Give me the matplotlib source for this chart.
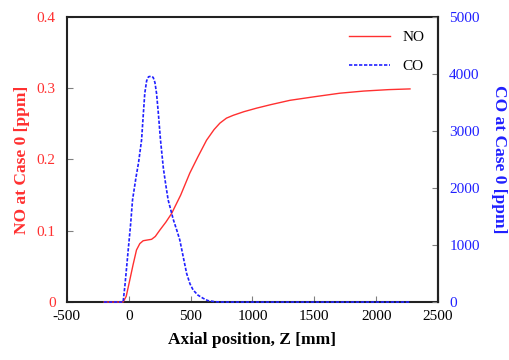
import matplotlib.pyplot as plt
import matplotlib

# axial position [mm] and concentrations
z_no = [-200, -45, -20, 9, 35, 63, 90, 117, 150, 185, 215, 252, 300, 346, 420, 494, 560, 629,
        690, 737, 790, 845, 930, 1033, 1150, 1303, 1500, 1707, 1900, 2100, 2273]
no = [0, 0, 0.008, 0.031, 0.052, 0.073, 0.082, 0.086, 0.087, 0.088, 0.092, 0.101, 0.112, 0.124,
      0.150, 0.181, 0.204, 0.227, 0.242, 0.251, 0.258, 0.262, 0.267, 0.272, 0.277, 0.283, 0.288,
      0.293, 0.296, 0.298, 0.299]

z_co = [-200, -45, -30, -15, -4, 15, 31, 60, 80, 104, 120, 130, 145, 160, 180, 198, 212, 225,
        240, 257, 280, 300, 319, 360, 390, 413, 440, 468, 495, 521, 560, 602, 640, 700, 760,
        1000, 1500, 2000, 2273]
co = [0, 0, 300, 650, 912, 1350, 1789, 2200, 2450, 2842, 3350, 3661, 3880, 3950, 3960, 3940,
      3850, 3661, 3300, 2842, 2350, 2050, 1789, 1450, 1250, 1088, 800, 503, 320, 210, 120, 65,
      25, 5, 0, 0, 0, 0, 0]

x_ticks = [-500, 0, 500, 1000, 1500, 2000, 2500]
no_ticks = [0, 0.1, 0.2, 0.3, 0.4]
co_ticks = [0, 1000, 2000, 3000, 4000, 5000]

RED = "#ff3030"
BLUE = "#2020ff"


def main():
    matplotlib.rc("font", family="Liberation Serif", size=11)

    fig, ax = plt.subplots(figsize=(5.1, 3.6), dpi=100)
    fig.subplots_adjust(left=0.131, right=0.859, top=0.953, bottom=0.161)
    ax2 = ax.twinx()

    l1, = ax.plot(z_no, no, color=RED, lw=1.0, label="NO", zorder=3, clip_on=False)
    l2, = ax2.plot(z_co, co, color=BLUE, lw=1.2, ls=(0, (2, 1)), label="CO", zorder=3,
                   clip_on=False)

    ax.set_xlim(-500, 2500)
    ax.set_ylim(0, 0.4)
    ax2.set_ylim(0, 5000)
    ax.set_xticks(x_ticks)
    ax.set_xticklabels([str(t) for t in x_ticks])
    ax.set_yticks(no_ticks)
    ax.set_yticklabels(["0", "0.1", "0.2", "0.3", "0.4"])
    ax2.set_yticks(co_ticks)

    ax.tick_params(axis="x", direction="in", length=4, color="gray", pad=6)
    ax.tick_params(axis="y", direction="in", length=4, color="gray", labelcolor=RED, pad=8)
    ax2.tick_params(axis="y", direction="in", length=4, color="gray", labelcolor=BLUE, pad=8)

    for s in ax.spines.values():
        s.set_linewidth(1.5)
        s.set_color("#222222")
    for name, s in ax2.spines.items():
        s.set_visible(name == "right")
        s.set_linewidth(1.5)
        s.set_color("#222222")

    ax.set_xlabel("Axial position, Z [mm]", fontweight="bold", fontsize=12.5, labelpad=6)
    ax.set_ylabel("NO at Case 0 [ppm]", fontweight="bold", fontsize=12.5, color=RED, labelpad=5)
    ax2.set_ylabel("CO at Case 0 [ppm]", fontweight="bold", fontsize=12.5, color=BLUE,
                   rotation=270, labelpad=20)

    ax.legend([l1, l2], ["NO", "CO"], loc="upper right", frameon=False, fontsize=11,
              handlelength=2.7, labelspacing=1.0, borderaxespad=0.5)
    return fig


if __name__ == "__main__":
    fig = main()
    fig.savefig("out.png", dpi=100)
